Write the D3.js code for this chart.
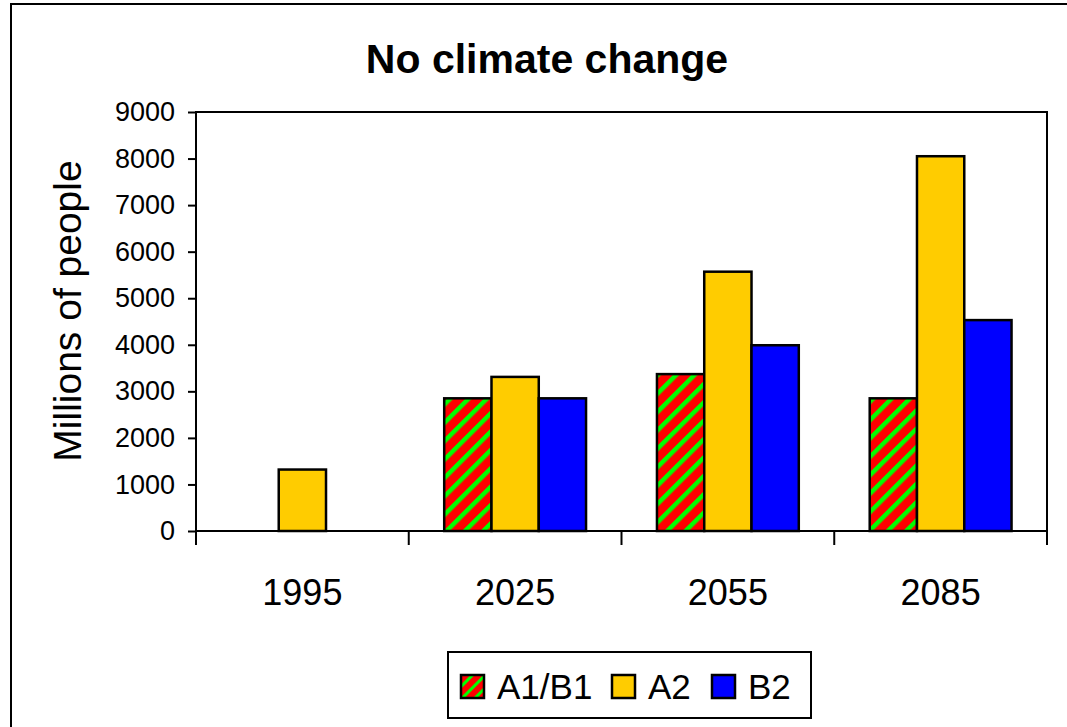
<!DOCTYPE html>
<html>
<head>
<meta charset="utf-8">
<script src="https://cdn.jsdelivr.net/npm/d3@7"></script>
<style>
  html, body { margin: 0; padding: 0; background: #fff; }
  svg { display: block; font-family: "Liberation Sans", Arial, sans-serif; }
</style>
</head>
<body>
<svg id="chart" width="1067" height="727"></svg>
<script>
// Years on the x axis
const years = ["1995", "2025", "2055", "2085"];
// Scenario series (millions of people); null where no bar is drawn
const seriesNames = ["A1/B1", "A2", "B2"];
const a1b1 = [null, 2850, 3370, 2850];
const a2   = [1320, 3310, 5570, 8050];
const b2   = [null, 2850, 3990, 4530];
const yTicks = [0, 1000, 2000, 3000, 4000, 5000, 6000, 7000, 8000, 9000];

const seriesValues = [a1b1, a2, b2];
const fills = ["url(#hatch)", "#FFCC00", "#0000FF"];

const svg = d3.select("#chart");

// Red/green diagonal hatch for the A1/B1 series
const defs = svg.append("defs");
const pat = defs.append("pattern")
  .attr("id", "hatch")
  .attr("patternUnits", "userSpaceOnUse")
  .attr("width", 13).attr("height", 13)
  .attr("patternTransform", "rotate(45)");
pat.append("rect").attr("width", 13).attr("height", 13).attr("fill", "#FF0000");
pat.append("rect").attr("width", 4.5).attr("height", 13).attr("fill", "#00FF00");

const hatchSmall = defs.append("pattern")
  .attr("id", "hatchLegend")
  .attr("patternUnits", "userSpaceOnUse")
  .attr("width", 9).attr("height", 9)
  .attr("patternTransform", "rotate(45)");
hatchSmall.append("rect").attr("width", 9).attr("height", 9).attr("fill", "#FF0000");
hatchSmall.append("rect").attr("width", 3).attr("height", 9).attr("fill", "#00FF00");

// Outer chart border (runs off the right and bottom edges)
svg.append("rect")
  .attr("x", 11).attr("y", 4)
  .attr("width", 1100).attr("height", 760)
  .attr("fill", "none").attr("stroke", "#000").attr("stroke-width", 2);

const plot = { left: 196, right: 1047, top: 112, bottom: 531 };

const x = d3.scaleBand().domain(years).range([plot.left, plot.right]).padding(0);
const xi = d3.scaleBand().domain(seriesNames).range([0, x.bandwidth()])
  .paddingInner(0).paddingOuter(0.75);
const y = d3.scaleLinear().domain([0, 9000]).range([plot.bottom, plot.top]);

// Title
svg.append("text")
  .attr("x", 547).attr("y", 73)
  .attr("text-anchor", "middle")
  .attr("font-size", 41).attr("font-weight", "bold")
  .text("No climate change");

// Y axis title
svg.append("text")
  .attr("transform", "translate(81,311) rotate(-90)")
  .attr("text-anchor", "middle")
  .attr("font-size", 39)
  .text("Millions of people");

// Bars
const rows = [];
years.forEach((yr, i) => {
  seriesNames.forEach((s, j) => {
    const v = seriesValues[j][i];
    if (v != null) rows.push({ year: yr, series: s, value: v, fill: fills[j] });
  });
});

svg.append("g").selectAll("rect")
  .data(rows)
  .join("rect")
  .attr("x", d => x(d.year) + xi(d.series))
  .attr("y", d => y(d.value))
  .attr("width", xi.bandwidth())
  .attr("height", d => y(0) - y(d.value))
  .attr("fill", d => d.fill)
  .attr("stroke", "#000")
  .attr("stroke-width", 2.5);

// Plot frame
svg.append("rect")
  .attr("x", plot.left).attr("y", plot.top)
  .attr("width", plot.right - plot.left).attr("height", plot.bottom - plot.top)
  .attr("fill", "none").attr("stroke", "#000").attr("stroke-width", 2);

// Y axis
const yAxis = svg.append("g")
  .attr("transform", `translate(${plot.left},0)`)
  .call(d3.axisLeft(y).tickValues(yTicks).tickSize(8).tickPadding(13).tickFormat(d3.format("d")));
yAxis.select(".domain").remove();
yAxis.selectAll("line").attr("stroke", "#000").attr("stroke-width", 2);
yAxis.selectAll("text").attr("font-size", 27).attr("fill", "#000")
  .attr("font-family", "Liberation Sans, Arial, sans-serif");

// X axis: ticks at category boundaries, labels centred
const xAxis = svg.append("g").attr("transform", `translate(0,${plot.bottom})`);
const bounds = years.map(d => x(d)).concat([plot.right]);
xAxis.selectAll("line")
  .data(bounds)
  .join("line")
  .attr("x1", d => d).attr("x2", d => d)
  .attr("y1", 0).attr("y2", 14)
  .attr("stroke", "#000").attr("stroke-width", 2);
xAxis.selectAll("text")
  .data(years)
  .join("text")
  .attr("x", d => x(d) + x.bandwidth() / 2)
  .attr("y", 74)
  .attr("text-anchor", "middle")
  .attr("font-size", 36)
  .text(d => d);

// Legend
const legend = svg.append("g");
legend.append("rect")
  .attr("x", 448).attr("y", 652)
  .attr("width", 363).attr("height", 66)
  .attr("fill", "#fff").attr("stroke", "#000").attr("stroke-width", 2);

const legendX = [461, 612, 712];
const legendFills = ["url(#hatchLegend)", "#FFCC00", "#0000FF"];
seriesNames.forEach((s, j) => {
  legend.append("rect")
    .attr("x", legendX[j]).attr("y", 675)
    .attr("width", 23).attr("height", 23)
    .attr("fill", legendFills[j])
    .attr("stroke", "#000").attr("stroke-width", 2.5);
  legend.append("text")
    .attr("x", legendX[j] + 36).attr("y", 699)
    .attr("font-size", 35)
    .text(s);
});
</script>
</body>
</html>
